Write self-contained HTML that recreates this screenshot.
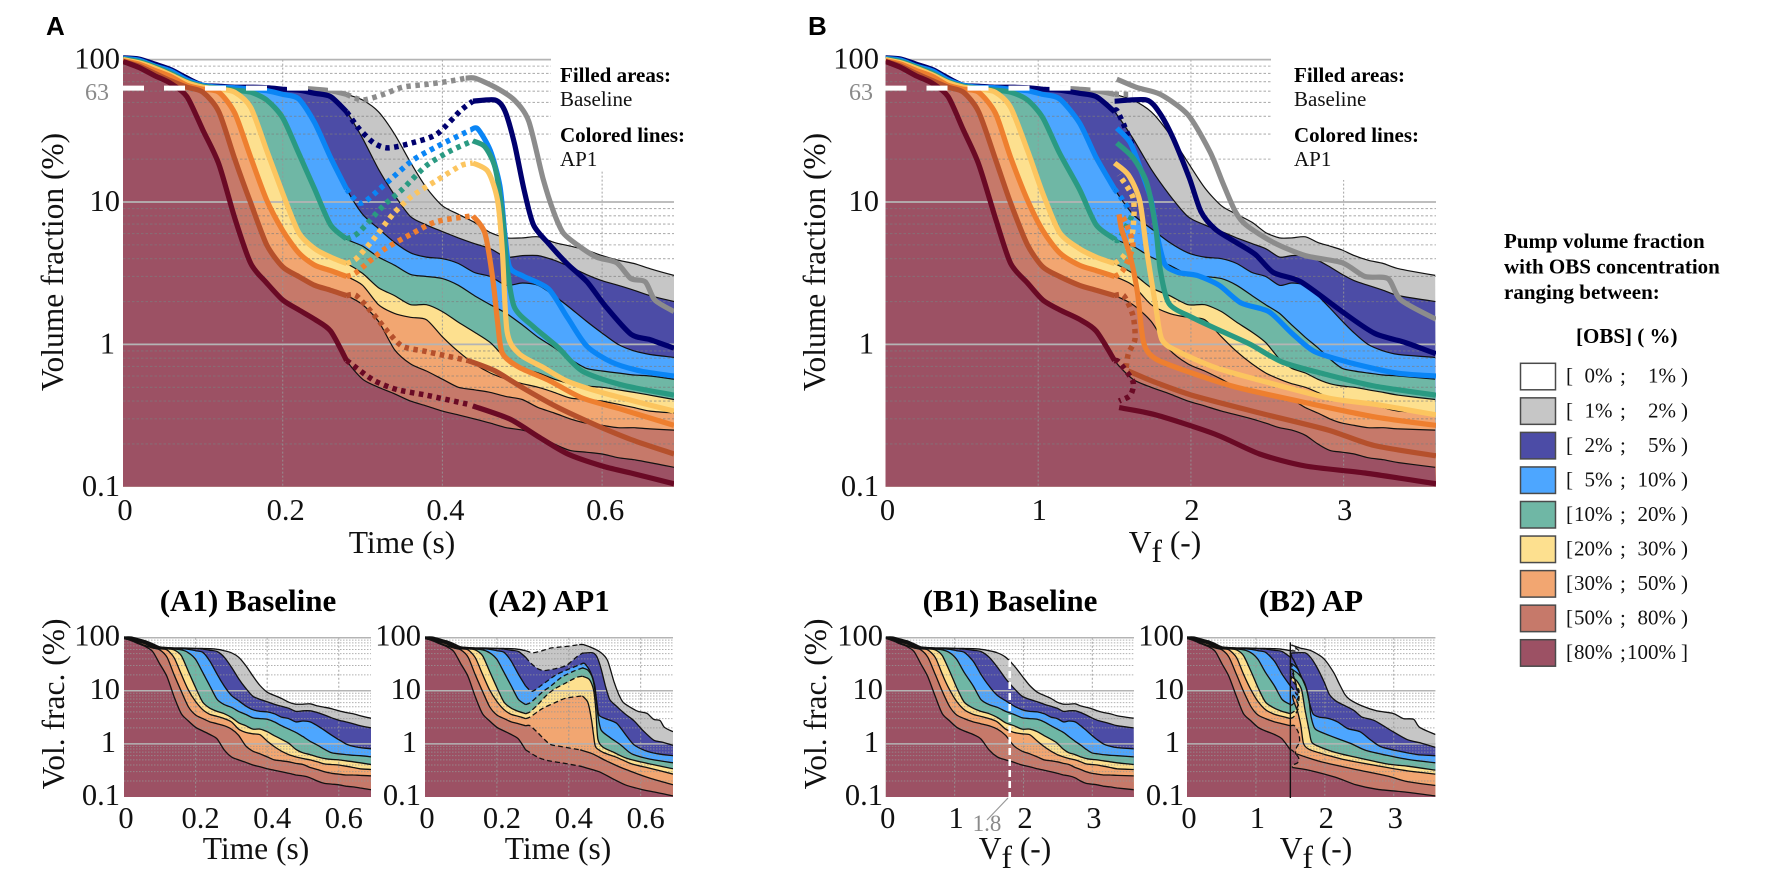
<!DOCTYPE html>
<html lang="en">
<head>
<meta charset="utf-8">
<title>Pump volume fraction by OBS concentration</title>
<style>
html,body{margin:0;padding:0;background:#fff;width:1772px;height:893px;overflow:hidden}
svg{display:block;font-family:"Liberation Serif",serif}
.t{font-size:31.5px;fill:#111}
.k{font-size:30.5px;fill:#111}
.n{font-size:21px;fill:#111}
.b{font-size:21px;font-weight:bold;fill:#000}
.h{font-size:31px;font-weight:bold;fill:#000;text-anchor:middle}
.p{font-family:"Liberation Sans",sans-serif;font-size:26px;font-weight:bold;fill:#000}
.g{font-size:24px;fill:#8a8a8a}
</style>
</head>
<body>
<svg id="fig" xmlns="http://www.w3.org/2000/svg" width="1772" height="893" viewBox="0 0 1772 893">
<rect width="1772" height="893" fill="#fff"/>
<g id="plots"></g>

<text class="p" x="46" y="35">A</text>
<text class="p" x="808" y="35">B</text>

<text class="b" x="560" y="82">Filled areas:</text>
<text class="n" x="560" y="106">Baseline</text>
<text class="b" x="560" y="142">Colored lines:</text>
<text class="n" x="560" y="166">AP1</text>
<text class="b" x="1294" y="82">Filled areas:</text>
<text class="n" x="1294" y="106">Baseline</text>
<text class="b" x="1294" y="142">Colored lines:</text>
<text class="n" x="1294" y="166">AP1</text>

<text class="t" transform="translate(56,262) rotate(-90)" text-anchor="middle" dominant-baseline="middle">Volume fraction (%)</text>
<text class="t" transform="translate(818,262) rotate(-90)" text-anchor="middle" dominant-baseline="middle">Volume fraction (%)</text>
<text class="t" x="402" y="553" text-anchor="middle">Time (s)</text>
<text class="t" x="1165" y="553" text-anchor="middle">V<tspan dy="9">f</tspan><tspan dy="-9"> (-)</tspan></text>
<text class="g" x="109" y="100" text-anchor="end">63</text>
<text class="g" x="873" y="100" text-anchor="end">63</text>

<text class="h" x="248" y="611">(A1) Baseline</text>
<text class="h" x="549" y="611">(A2) AP1</text>
<text class="h" x="1010" y="611">(B1) Baseline</text>
<text class="h" x="1311" y="611">(B2) AP</text>

<text class="t" transform="translate(57,704) rotate(-90)" text-anchor="middle" dominant-baseline="middle">Vol. frac. (%)</text>
<text class="t" transform="translate(819,704) rotate(-90)" text-anchor="middle" dominant-baseline="middle">Vol. frac. (%)</text>
<text class="t" x="256" y="859" text-anchor="middle">Time (s)</text>
<text class="t" x="558" y="859" text-anchor="middle">Time (s)</text>
<text class="t" x="1015" y="859" text-anchor="middle">V<tspan dy="9">f</tspan><tspan dy="-9"> (-)</tspan></text>
<text class="t" x="1316" y="859" text-anchor="middle">V<tspan dy="9">f</tspan><tspan dy="-9"> (-)</tspan></text>
<line x1="987" y1="820" x2="1008" y2="798" stroke="#999" stroke-width="1.2"/>
<text class="g" x="987" y="831" text-anchor="middle" style="font-size:23px">1.8</text>

<g>
<text class="b" x="1504" y="248">Pump volume fraction</text>
<text class="b" x="1504" y="273.5">with OBS concentration</text>
<text class="b" x="1504" y="299">ranging between:</text>
<text class="b" x="1576" y="343">[OBS] ( %)</text>
<g id="legendRows"></g>
</g>
</svg>
<script>
/* shared abscissae of the baseline curves */
const timeGrid=[0,.02,.04,.06,.08,.1,.12,.14,.16,.18,.2,.22,.24,.26,.28,.3,.32,.34,.36,.38,.4,.42,.44,.46,.48,.5,.52,.54,.56,.58,.6,.62,.64,.66,.69];
const vfGrid=[0,.1,.2,.31,.41,.51,.61,.72,.82,.93,1.03,1.14,1.27,1.38,1.5,1.62,1.74,1.86,1.98,2.09,2.2,2.3,2.4,2.49,2.58,2.66,2.75,2.83,2.91,2.99,3.07,3.16,3.26,3.36,3.6];

/* baseline: cumulative volume fraction (%) above each OBS concentration */
const baseline1=[103,103,95,87,77,67,65,64,64,63.5,63,63,62,60.5,57,52,43,30,19,12.6,9.4,8.2,7.2,6.1,5.6,5.6,5.7,5.2,4.9,4.6,4.2,3.9,3.7,3.4,3.05];
const baseline2=[103,101,93,85,74,66,65,64,64,63.5,62,61,58,55,43,28,17,11.2,7.9,6.9,6.2,5.6,5.1,4.7,4.1,4.2,4.2,3.9,3.5,3.1,2.8,2.6,2.4,2.2,2];
const baseline5=[102,99,90,83,72,66,64,63.5,62,60.5,57,53,36,20.5,12.3,8.2,6.5,5.2,4.4,4.1,4,3.7,3.2,3,2.6,2.7,2.6,2.2,1.8,1.46,1.2,1,.9,.85,.81];
const baseline10=[101,97,89,80,70,65,63,61,59,52,39,22,12.3,6.9,5.5,4.9,4.1,3.6,3.1,3,2.9,2.6,2.2,1.9,1.65,1.37,1.12,.95,.79,.68,.65,.63,.61,.6,.57];
const baseline20=[100,95,87,78,69,64,62,59,46,23,11.5,6.1,4.7,4.1,3.7,3.15,2.5,2.2,1.9,1.9,1.7,1.43,1.22,1.03,.79,.68,.63,.57,.53,.51,.5,.48,.46,.44,.41];
const baseline30=[98,93,84,76,66,62,59,42,20.5,10.3,6.3,4.4,3.6,3.3,3,2.6,1.9,1.65,1.55,1.49,1.13,.89,.73,.63,.57,.53,.5,.46,.42,.41,.4,.38,.36,.34,.33];
const baseline50=[97,90,80,71,64,59,43,20,9.8,5,3.5,3,2.6,2.4,2.2,1.9,1.45,.92,.73,.65,.57,.5,.48,.46,.43,.41,.36,.33,.3,.28,.27,.26,.26,.255,.25];
const baseline80=[97,88,77,68,55,32,18.5,7.7,3.7,2.7,2.05,1.75,1.5,1.24,.77,.57,.5,.45,.4,.37,.34,.32,.3,.28,.26,.25,.23,.2,.18,.175,.17,.16,.155,.148,.137];

/* AP1 vs time: injection (dotted) and recovery (solid) segments */
const apTimeDot1=[.3,.326,.35,.38,.405,.429];            const apTimeDot1Val=[52,57,64,67,70,74];
const apTimeSol1=[.429,.441,.466,.49,.508,.526,.539,.551,.569,.593,.618,.636,.654,.666,.69];
const apTimeSol1Val=[74,74,64,52,37,14.6,8.6,6.1,5,4.1,3.75,2.9,2.75,2.05,1.7];
const apTimeDot2=[.295,.314,.332,.362,.393,.423,.438];   const apTimeDot2Val=[33,26,24,26,30,44,51];
const apTimeSol2=[.438,.466,.478,.49,.502,.514,.533,.557,.581,.605,.636,.66,.69];
const apTimeSol2Val=[51,52,44,26,12.3,6.9,5.1,3.65,2.75,1.83,1.18,1.08,.94];
const apTimeDot5=[.298,.326,.362,.393,.435];             const apTimeDot5Val=[9.8,13,19.5,24.5,32];
const apTimeSol5=[.435,.444,.46,.472,.478,.484,.502,.533,.557,.581,.612,.648,.69];
const apTimeSol5Val=[32,32.7,23,13,6.1,3.5,3,2.45,1.53,.97,.75,.65,.6];
const apTimeDot10=[.295,.326,.35,.38,.411,.438];         const apTimeDot10Val=[6.1,9.4,12.3,18,23,26.9];
const apTimeSol10=[.438,.453,.466,.475,.481,.49,.514,.545,.575,.624,.69];
const apTimeSol10Val=[26.9,24.5,17.4,8.2,3.5,1.83,1.33,.95,.65,.52,.44];
const apTimeDot20=[.292,.314,.338,.362,.393,.423,.438];  const apTimeDot20Val=[4,5.5,8.2,11,14.2,18,18.8];
const apTimeSol20=[.438,.457,.469,.475,.481,.496,.526,.557,.605,.69];
const apTimeSol20Val=[18.8,16.4,10.3,4.6,1.23,.86,.69,.55,.45,.34];
const apTimeDot30=[.292,.326,.362,.393,.438];            const apTimeDot30Val=[3.2,4.6,6,7.3,8];
const apTimeSol30=[.438,.453,.463,.469,.475,.496,.533,.575,.624,.69];
const apTimeSol30Val=[8,6.1,2.9,1.45,.87,.69,.56,.42,.35,.27];
const apTimeDot50=[.292,.314,.332,.35,.38,.432];         const apTimeDot50Val=[2.2,1.62,1.22,.97,.89,.77];
const apTimeSol50=[.432,.466,.502,.545,.593,.636,.69];
const apTimeSol50Val=[.77,.65,.49,.36,.27,.215,.17];
const apTimeDot80=[.283,.314,.344,.38,.432];             const apTimeDot80Val=[.75,.56,.48,.44,.38];
const apTimeSol80=[.438,.484,.52,.557,.6,.636,.69];
const apTimeSol80Val=[.37,.3,.225,.17,.14,.125,.105];

/* AP vs Vf */
const apVfDot1=[1.62];                          const apVfDot1Val=[57];
const apVfSol1=[1.515,1.65,1.8,1.98,2.125,2.21,2.29,2.36,2.54,2.75,2.99,3.14,3.29,3.375,3.605];
const apVfSol1Val=[73,63.5,57,41,22.5,13.5,8.6,6.9,5.2,4.2,3.75,3,2.9,2.05,1.5];
const apVfDot2=[1.515,1.56,1.62];               const apVfDot2Val=[44,35,24.5];
const apVfSol2=[1.5,1.71,1.8,1.887,1.99,2.065,2.155,2.27,2.42,2.54,2.72,2.99,3.2,3.405,3.605];
const apVfSol2Val=[51,52,41.4,27.5,14.7,8.6,6.5,5.4,4.3,3.2,2.75,1.7,1.2,1.03,.86];
const apVfDot5=[1.53,1.604];                    const apVfDot5Val=[11.2,8.6];
const apVfSol5=[1.515,1.604,1.68,1.74,1.78,1.83,1.917,2.04,2.185,2.33,2.51,2.66,2.81,3.05,3.345,3.605];
const apVfSol5Val=[33,26,16,10.3,5.8,3.65,3.2,3.05,2.6,1.95,1.7,1.2,.89,.74,.63,.6];
const apVfDot10=[1.53,1.62];                    const apVfDot10Val=[5.5,8.2];
const apVfSol10=[1.515,1.62,1.71,1.77,1.8,1.857,2.006,2.185,2.39,2.6,2.9,3.2,3.605];
const apVfSol10Val=[26,20.5,13.7,6.5,3.3,1.93,1.55,1.26,1,.75,.61,.51,.44];
const apVfDot20=[1.554,1.604,1.625,1.62,1.53];  const apVfDot20Val=[4.1,5,7.3,10.8,15.5];
const apVfSol20=[1.5,1.59,1.664,1.71,1.77,1.81,1.917,2.155,2.45,2.9,3.2,3.605];
const apVfSol20Val=[18.8,15.5,10.3,4.6,1.83,1.08,.89,.69,.56,.42,.38,.32];
const apVfDot30=[1.554,1.62,1.58,1.545];        const apVfDot30Val=[3.3,4.9,6.9,8.2];
const apVfSol30=[1.53,1.545,1.604,1.65,1.69,1.77,2.006,2.3,2.75,3.2,3.605];
const apVfSol30Val=[8.2,6.5,4.1,2.3,1.03,.79,.63,.5,.39,.31,.27];
const apVfDot50=[1.56,1.62,1.634,1.59,1.574];   const apVfDot50Val=[2.2,1.6,1.09,.86,.66];
const apVfSol50=[1.59,1.77,2.006,2.45,2.9,3.2,3.605];
const apVfSol50Val=[.65,.54,.44,.33,.25,.195,.165];
const apVfDot80=[1.53,1.62,1.604,1.53];         const apVfDot80Val=[.75,.55,.44,.4];
const apVfSol80=[1.53,1.77,2.155,2.45,2.75,3.14,3.605];
const apVfSol80Val=[.36,.32,.235,.17,.14,.125,.105];

/* axes */
const yMajorTicks=[100,10,1,.1];
const yTickLabels=["100","10","1","0.1"];
const yMinorMultipliers=[2,3,4,5,6,7,8,9];
const timeTicks=[.2,.4,.6];
const timeTickLabels=["0.2","0.4","0.6"];
const vfTicks=[1,2,3];
const vfTickLabels=["1","2","3"];
const referenceLevel=[63];
const breakthroughVf=[1.8];

/* legend */
const legendLow=["0%","1%","2%","5%","10%","20%","30%","50%","80%"];
const legendHigh=["1%","2%","5%","10%","20%","30%","50%","80%","100%"];
const legendColors=["#ffffff","#c6c6c6","#4c4ca6","#4da6ff","#6fb7a5","#fde08f","#f2a671","#c6796a","#9c5164"];

const levelNames=["1","2","5","10","20","30","50","80"];
const fillColors=["#c6c6c6","#4c4ca6","#4da6ff","#6fb7a5","#fde08f","#f2a671","#c6796a","#9c5164"];
const lineColors=["#8c8c8c","#00006e","#0a85f5","#2a9a82","#fcc55f","#ee7f2f","#b5502c","#6a0a25"];
const baselines=[baseline1,baseline2,baseline5,baseline10,baseline20,baseline30,baseline50,baseline80];
const apTime=[[apTimeDot1,apTimeDot1Val,apTimeSol1,apTimeSol1Val],[apTimeDot2,apTimeDot2Val,apTimeSol2,apTimeSol2Val],[apTimeDot5,apTimeDot5Val,apTimeSol5,apTimeSol5Val],[apTimeDot10,apTimeDot10Val,apTimeSol10,apTimeSol10Val],[apTimeDot20,apTimeDot20Val,apTimeSol20,apTimeSol20Val],[apTimeDot30,apTimeDot30Val,apTimeSol30,apTimeSol30Val],[apTimeDot50,apTimeDot50Val,apTimeSol50,apTimeSol50Val],[apTimeDot80,apTimeDot80Val,apTimeSol80,apTimeSol80Val]];
const apVf=[[apVfDot1,apVfDot1Val,apVfSol1,apVfSol1Val],[apVfDot2,apVfDot2Val,apVfSol2,apVfSol2Val],[apVfDot5,apVfDot5Val,apVfSol5,apVfSol5Val],[apVfDot10,apVfDot10Val,apVfSol10,apVfSol10Val],[apVfDot20,apVfDot20Val,apVfSol20,apVfSol20Val],[apVfDot30,apVfDot30Val,apVfSol30,apVfSol30Val],[apVfDot50,apVfDot50Val,apVfSol50,apVfSol50Val],[apVfDot80,apVfDot80Val,apVfSol80,apVfSol80Val]];
const prefixEnd=timeGrid.indexOf(.28);

const NS="http://www.w3.org/2000/svg";
const plotsRoot=document.getElementById("plots");
function make(tag,props,parent){
  const e=document.createElementNS(NS,tag);
  for(const k in props)e.setAttribute(k,props[k]);
  parent.appendChild(e);
  return e;
}
/* smooth Catmull-Rom path through the mapped data points */
function toPath(xs,ys,xF,yF){
  const px=xs.map(xF), py=ys.map(yF), n=px.length, c=0.13;
  let d="M"+px[0].toFixed(1)+" "+py[0].toFixed(1);
  for(let i=0;i<n-1;i++){
    const a=Math.max(i-1,0), b=Math.min(i+2,n-1);
    const c1x=px[i]+(px[i+1]-px[a])*c, c1y=py[i]+(py[i+1]-py[a])*c;
    const c2x=px[i+1]-(px[b]-px[i])*c, c2y=py[i+1]-(py[b]-py[i])*c;
    d+=" C"+c1x.toFixed(1)+" "+c1y.toFixed(1)+" "+c2x.toFixed(1)+" "+c2y.toFixed(1)+" "+px[i+1].toFixed(1)+" "+py[i+1].toFixed(1);
  }
  return d;
}
let clipCounter=0;

function drawPanel(cfg){
  const xF=v=>cfg.x0+v/cfg.xMax*(cfg.x1-cfg.x0);
  const yF=v=>cfg.y100+(2-Math.log10(v))/3*(cfg.y01-cfg.y100);
  const grid=cfg.xGrid, big=cfg.big;
  const g=make("g",{},plotsRoot);
  
  
  const clipId="clip"+(clipCounter++);
  const defs=make("defs",{},g);
  const cp=make("clipPath",{id:clipId},defs);
  make("rect",{x:cfg.x0,y:cfg.y100-6,width:cfg.x1-cfg.x0,height:cfg.y01-cfg.y100+6},cp);
  const body=make("g",{"clip-path":"url(#"+clipId+")"},g);

  /* filled stack (painter's order, largest first) */
  for(let i=0;i<8;i++){
    let xs,ys;
    if(cfg.mode==="ap"){
      const s=cfg.ap[i];
      xs=grid.slice(0,prefixEnd+1).concat(s[0],s[2]);
      ys=baselines[i].slice(0,prefixEnd+1).concat(s[1],s[3]);
    }else{xs=grid;ys=baselines[i];}
    const area=make("path",{d:toPath(xs,ys,xF,yF)+" L"+cfg.x1+" "+cfg.y01+" L"+cfg.x0+" "+cfg.y01+" Z",fill:fillColors[i]},body);
    
    
  }

  /* grid */
  for(let d=0;d<3;d++){
    const base=yMajorTicks[d+1];
    yMinorMultipliers.forEach(m=>{
      const y=yF(base*m);
      const minor=make("line",{x1:cfg.x0,x2:cfg.x1,y1:y,y2:y,stroke:big?"rgba(125,125,125,.6)":"rgba(150,150,150,.75)","stroke-width":big?1.1:1,"stroke-dasharray":big?"2.5 2":"1.5 1.5"},g);
      
      
    });
  }
  cfg.xTicks.forEach(v=>{
    const vl=make("line",{x1:xF(v),x2:xF(v),y1:cfg.y100,y2:cfg.y01,stroke:"rgba(150,150,150,.8)","stroke-width":1.1,"stroke-dasharray":"2 2"},g);
    
    
  });
  yMajorTicks.slice(0,3).forEach(v=>{
    const ml=make("line",{x1:cfg.x0,x2:cfg.x1,y1:yF(v),y2:yF(v),stroke:"#b4b4b4","stroke-width":big?1.8:1.5},g);
    
    
  });
  if(big){
    const cover=make("rect",{x:cfg.coverX,y:cfg.y100-8,width:cfg.x1-cfg.coverX+2,height:cfg.coverBottom-cfg.y100+8,fill:"#fff"},g);
    
    
  }

  /* thin black boundaries */
  const thin=make("g",{fill:"none",stroke:"#111","stroke-width":big?1.2:1.3,"clip-path":"url(#"+clipId+")"},g);
  
  
  for(let i=0;i<8;i++){
    if(cfg.mode==="ap"){
      const s=cfg.ap[i];
      const a=make("path",{d:toPath(grid.slice(0,prefixEnd+1),baselines[i].slice(0,prefixEnd+1),xF,yF)},thin);
      
      
      const b=make("path",{d:toPath([grid[prefixEnd]].concat(s[0],[s[2][0]]),[baselines[i][prefixEnd]].concat(s[1],[s[3][0]]),xF,yF),"stroke-dasharray":"5 3"},thin);
      
      
      const c=make("path",{d:toPath(s[2],s[3],xF,yF)},thin);
      
      
    }else{
      const a=make("path",{d:toPath(grid,baselines[i],xF,yF)},thin);
      
      
    }
  }

  /* thick AP1 overlays on the main plots */
  if(big){
    const overlay=make("g",{fill:"none","clip-path":"url(#"+clipId+")","stroke-linejoin":"round"},g);
    
    
    for(let i=0;i<8;i++){
      const s=cfg.ap[i];
      const px=grid.slice(0,prefixEnd+1), py=baselines[i].slice(0,prefixEnd+1);
      const startAt=i===0?11:0;
      const pre=make("path",{d:toPath(px.slice(startAt),py.slice(startAt),xF,yF),stroke:lineColors[i],"stroke-width":5.2},overlay);
      
      
      const dot=make("path",{d:toPath([px[prefixEnd]].concat(s[0]),[py[prefixEnd]].concat(s[1]),xF,yF),stroke:lineColors[i],"stroke-width":5.5,"stroke-dasharray":"4.5 4.5"},overlay);
      
      
      const sol=make("path",{d:toPath(s[2],s[3],xF,yF),stroke:lineColors[i],"stroke-width":5.2},overlay);
      
      
    }
    const ref=make("line",{x1:cfg.x0,x2:xF(cfg.refEnd),y1:yF(referenceLevel[0]),y2:yF(referenceLevel[0]),stroke:"#fff","stroke-width":5,"stroke-dasharray":"21 20"},g);
    
    
  }
  if(cfg.vLine){
    const vl=make("line",{x1:xF(cfg.vLine),x2:xF(cfg.vLine),y1:yF(82),y2:cfg.y01+1,stroke:"#111","stroke-width":1.4},g);
    
    
  }
  if(cfg.marker){
    const mk=make("line",{x1:xF(cfg.marker),x2:xF(cfg.marker),y1:yF(38),y2:cfg.y01,stroke:"#fff","stroke-width":2.6,"stroke-dasharray":"7 4"},g);
    
    
  }

  /* tick labels */
  yMajorTicks.forEach((v,i)=>{
    const t=make("text",{x:cfg.yLabelX-(yTickLabels[i]==="1"?(big?5:4):0),y:yF(v)+(big?9:8),"text-anchor":"end","class":"k"},g);
    t.textContent=yTickLabels[i];
    
    
  });
  const zero=make("text",{x:cfg.x0+2,y:cfg.xLabelY,"text-anchor":"middle","class":"k"},g);
  zero.textContent="0";
  
  
  cfg.xTicks.forEach((v,i)=>{
    const t=make("text",{x:xF(v)+cfg.labelDx,y:cfg.xLabelY,"text-anchor":"middle","class":"k"},g);
    t.textContent=cfg.xLabels[i];
    
    
  });
}

const tAxis={xMax:.69,xTicks:timeTicks,xLabels:timeTickLabels,xGrid:timeGrid};
const vAxis={xMax:3.605,xTicks:vfTicks,xLabels:vfTickLabels,xGrid:vfGrid};
const bigY={y100:59.6,y01:486.8,big:true,mode:"base",xLabelY:520};
const smallY={y100:637.7,y01:797,big:false,xLabelY:828};

drawPanel(Object.assign({name:"main-plot-time",x0:123,x1:674,ap:apTime,yLabelX:120,labelDx:3,coverX:551,coverBottom:170,refEnd:.29},tAxis,bigY));
drawPanel(Object.assign({name:"main-plot-vf",x0:885.5,x1:1436,ap:apVf,yLabelX:879,labelDx:1,coverX:1271,coverBottom:180,refEnd:1.5},vAxis,bigY));
drawPanel(Object.assign({name:"plot-a1-baseline",x0:124,x1:371,mode:"base",yLabelX:120,labelDx:5},tAxis,smallY));
drawPanel(Object.assign({name:"plot-a2-ap1",x0:425,x1:673,mode:"ap",ap:apTime,yLabelX:421,labelDx:5},tAxis,smallY));
drawPanel(Object.assign({name:"plot-b1-baseline",x0:885.8,x1:1134,mode:"base",yLabelX:883,labelDx:1.5,marker:breakthroughVf[0]},vAxis,smallY));
drawPanel(Object.assign({name:"plot-b2-ap",x0:1187,x1:1435.4,mode:"ap",ap:apVf,yLabelX:1184,labelDx:1.5,vLine:1.5},vAxis,smallY));

/* legend rows */
const legendRoot=document.getElementById("legendRows");
legendColors.forEach((c,i)=>{
  const top=363.3+i*34.55, base=382.7+i*34.55;
  const sw=make("rect",{x:1520.5,y:top,width:35,height:26.5,fill:c,stroke:"#4a4a4a","stroke-width":1.5},legendRoot);
  
  
  const pieces=[["[",1566,"start"],[legendLow[i],1612.5,"end"],[";",1620,"start"],[legendHigh[i],1676,"end"],[i===8?"]":")",1681,"start"]];
  pieces.forEach(p=>{
    const t=make("text",{x:p[1],y:base,"text-anchor":p[2],"class":"n"},legendRoot);
    t.textContent=p[0];
    
    
  });
});
</script>
</body>
</html>
